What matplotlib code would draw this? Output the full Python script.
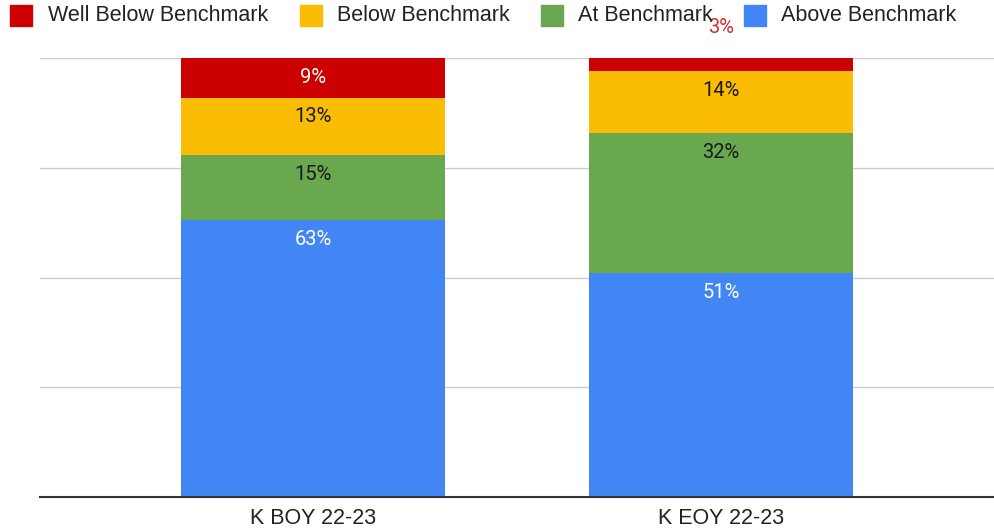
import numpy as np
import matplotlib.pyplot as plt
from matplotlib.patches import Rectangle

categories = ["K BOY 22-23", "K EOY 22-23"]
series = ["Well Below Benchmark", "Below Benchmark", "At Benchmark", "Above Benchmark"]
above = [63, 51]
at = [15, 32]
below = [13, 14]
well_below = [9, 3]

colors = {"Above Benchmark": "#4285f4", "At Benchmark": "#6aa84f",
          "Below Benchmark": "#fbbc04", "Well Below Benchmark": "#cc0000"}
label_colors = {"Above Benchmark": "white", "At Benchmark": "#1a1a1a",
                "Below Benchmark": "#1a1a1a", "Well Below Benchmark": "white"}

W, H = 994, 530
fig = plt.figure(figsize=(W / 100, H / 100), dpi=100)
ax = fig.add_axes([40 / W, 33 / H, 954 / W, 439 / H])

x = np.arange(len(categories))
width = 0.648
stack = [("Above Benchmark", above), ("At Benchmark", at),
         ("Below Benchmark", below), ("Well Below Benchmark", well_below)]
bottom = np.zeros(len(categories))
for name, vals in stack:
    vals = np.array(vals, dtype=float)
    ax.bar(x, vals, width, bottom=bottom, color=colors[name], zorder=3)
    for i, v in enumerate(vals):
        top = bottom[i] + v
        if v >= 5:
            ax.annotate(f"{int(v)}%", (x[i], top), xytext=(0, -14), textcoords="offset points",
                        ha="center", va="center", fontsize=14.5, family="Roboto",
                        color=label_colors[name], zorder=4)
        else:
            ax.annotate(f"{int(v)}%", (x[i], top), xytext=(0, 22), textcoords="offset points",
                        ha="center", va="center", fontsize=14.5, family="Roboto",
                        color="#d32f2f", zorder=6, annotation_clip=False)
    bottom += vals

ax.set_xlim(-0.67, 1.67)
ax.set_ylim(0, 100)
ax.set_yticks([0, 25, 50, 75, 100])
ax.set_yticklabels([])
ax.tick_params(axis="y", length=0)
ax.tick_params(axis="x", length=0, pad=8)
ax.set_xticks(x)
ax.set_xticklabels(categories, fontsize=15.5, family="Liberation Sans", color="#222222")
ax.grid(axis="y", color="#cccccc", linewidth=1, zorder=0)
for s in ["top", "right", "left"]:
    ax.spines[s].set_visible(False)
ax.spines["bottom"].set_color("#333333")
ax.spines["bottom"].set_linewidth(1.5)
ax.spines["bottom"].set_zorder(5)

# legend drawn by hand to match spacing
sq_x = [10, 300, 541, 744]
txt_x = [48, 337, 578, 781]
for name, sx, tx in zip(series, sq_x, txt_x):
    fig.patches.append(Rectangle((sx / W, 1 - 26 / H), 22 / W, 21 / H, transform=fig.transFigure,
                                 color=colors[name], zorder=5))
    fig.text(tx / W, 1 - 15.5 / H, name, ha="left", va="center", fontsize=15.5,
             family="Liberation Sans", color="#222222", zorder=5)

fig.savefig("out.png", dpi=100)
